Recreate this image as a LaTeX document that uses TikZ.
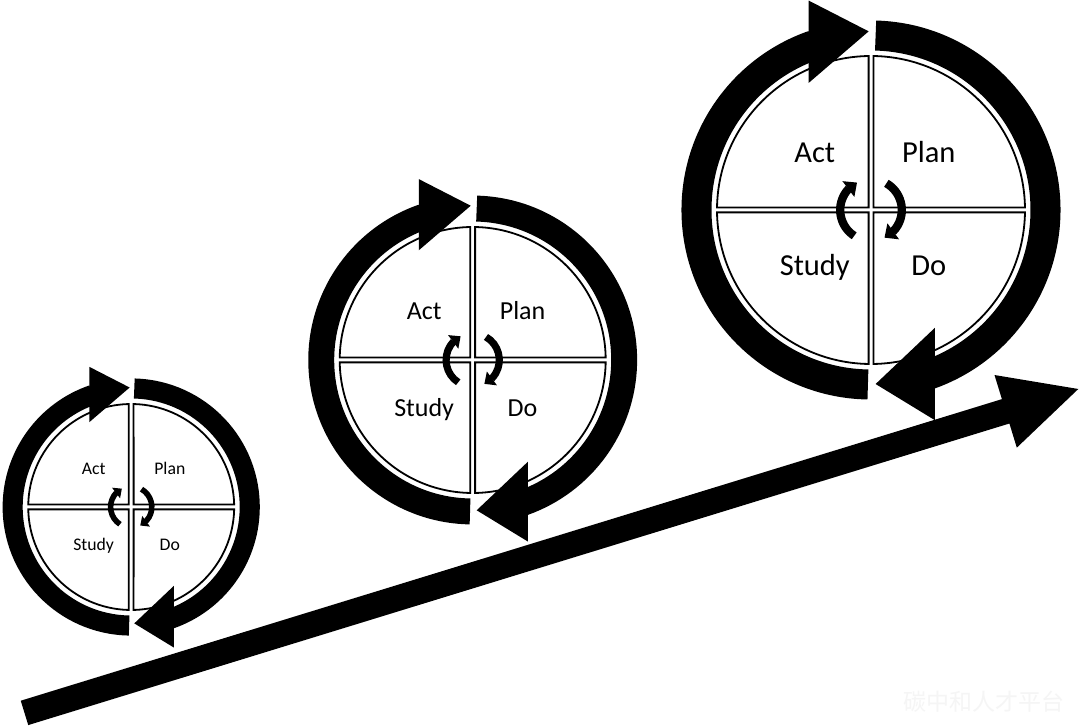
\documentclass[tikz,border=0pt]{standalone}
\usepackage{fontspec}
\setmainfont{Carlito}
\newfontfamily\cjkfont{Noto Sans CJK SC}
\usetikzlibrary{calc,arrows.meta,bending}

\tikzset{
  quad/.style={draw=black, line width=1.8pt, fill=white, line join=miter},
  ringarc/.style={draw=black, line cap=butt},
  headtri/.style={fill=black},
  innerarr/.style={draw=black, line cap=butt, -{Triangle[width=0pt 2.3, length=0pt 1.3]}},
  pdcatext/.style={inner sep=0pt, anchor=base, text=black},
  bigarrow/.style={fill=black},
}

\newcommand\pdcacycle[5]{%
  \pgfmathsetmacro\pdR{#4}%
  \pgfmathsetmacro\pdD{2.4}%
  \pgfmathsetmacro\pdA{asin(\pdD/\pdR)}%
  \pgfmathsetmacro\pdB{90-\pdA}%
  \coordinate (#1c) at (#2,#3);
  % quadrants
  \draw[quad] ($(#1c)+(\pdD,\pdD)$) -- ($(#1c)+(\pdB:\pdR)$) arc[start angle=\pdB, end angle=\pdA, radius=\pdR] -- cycle;
  \draw[quad] ($(#1c)+(-\pdD,\pdD)$) -- ($(#1c)+(90+\pdA:\pdR)$) arc[start angle=90+\pdA, end angle=180-\pdA, radius=\pdR] -- cycle;
  \draw[quad] ($(#1c)+(-\pdD,-\pdD)$) -- ($(#1c)+(180+\pdA:\pdR)$) arc[start angle=180+\pdA, end angle=270-\pdA, radius=\pdR] -- cycle;
  \draw[quad] ($(#1c)+(\pdD,-\pdD)$) -- ($(#1c)+(270+\pdA:\pdR)$) arc[start angle=270+\pdA, end angle=360-\pdA, radius=\pdR] -- cycle;
  % outer ring arrows
  \pgfmathsetmacro\pdRi{\pdR+5.5}%
  \pgfmathsetmacro\pdW{0.195*\pdR}%
  \pgfmathsetmacro\pdRo{\pdRi+\pdW}%
  \pgfmathsetmacro\pdRm{\pdRi+\pdW/2}%
  \pgfmathsetmacro\pdLs{270-asin(0.02*\pdR/\pdRm)}%
  \pgfmathsetmacro\pdLe{acos(-0.405*\pdR/\pdRo)}%
  \pgfmathsetmacro\pdRs{90-asin(0.03*\pdR/\pdRm)}%
  \pgfmathsetmacro\pdRe{-acos(0.415*\pdR/\pdRo)}%
  \draw[ringarc, line width=\pdW pt] ($(#1c)+(\pdLs:\pdRm)$) arc[start angle=\pdLs, end angle=\pdLe, radius=\pdRm];
  \draw[ringarc, line width=\pdW pt] ($(#1c)+(\pdRs:\pdRm)$) arc[start angle=\pdRs, end angle=\pdRe, radius=\pdRm];
  \fill[headtri] ($(#1c)+(-0.405*\pdR,1.36*\pdR)$) -- ($(#1c)+(-0.015*\pdR,1.16*\pdR)$) -- ($(#1c)+(-0.405*\pdR,0.825*\pdR)$) -- cycle;
  \fill[headtri] ($(#1c)+(0.415*\pdR,-0.765*\pdR)$) -- ($(#1c)+(0.03*\pdR,-1.13*\pdR)$) -- ($(#1c)+(0.415*\pdR,-1.365*\pdR)$) -- cycle;
  % inner small arrows
  \pgfmathsetmacro\pdr{0.2*\pdR}%
  \pgfmathsetmacro\pdw{0.054*\pdR}%
  \draw[innerarr, line width=\pdw pt] ($(#1c)+(237:\pdr)$) arc[start angle=237, end angle=117, radius=\pdr];
  \draw[innerarr, line width=\pdw pt] ($(#1c)+(60:\pdr)$) arc[start angle=60, end angle=-64, radius=\pdr];
  % labels
  \node[pdcatext, font=\fontsize{#5}{#5}\selectfont] (#1act) at ($(#1c)+(-0.365*\pdR, 0.37*\pdR-0.316*#5)$) {Act};
  \node[pdcatext, font=\fontsize{#5}{#5}\selectfont] (#1plan) at ($(#1c)+(0.375*\pdR, 0.37*\pdR-0.316*#5)$) {Plan};
  \node[pdcatext, font=\fontsize{#5}{#5}\selectfont] (#1study) at ($(#1c)+(-0.365*\pdR, -0.365*\pdR-0.316*#5)$) {Study};
  \node[pdcatext, font=\fontsize{#5}{#5}\selectfont] (#1do) at ($(#1c)+(0.375*\pdR, -0.365*\pdR-0.316*#5)$) {Do};
}

\begin{document}
\begin{tikzpicture}[x=1pt,y=1pt]
  \fill[white] (0,0) rectangle (1080,726);
  \useasboundingbox (0,0) rectangle (1080,726);
  % main rising arrow
  \coordinate (aT) at (24.5,13.1);
  \coordinate (aP) at (1078.3,337);
  \coordinate (aB) at ($(aP)!76pt!(aT)$);
  \fill[bigarrow] ($(aT)!12.75pt!90:(aP)$) -- ($(aB)!12.75pt!90:(aP)$) -- ($(aB)!38pt!90:(aP)$) -- (aP)
     -- ($(aB)!38pt!-90:(aP)$) -- ($(aB)!12.75pt!-90:(aP)$) -- ($(aT)!12.75pt!-90:(aP)$) -- cycle;
  % three PDCA cycles
  \pdcacycle{s}{131.2}{219}{103}{17.7}
  \pdcacycle{m}{472.7}{366}{133}{26}
  \pdcacycle{b}{871}{516}{154}{30.5}
  % watermark
  \node[font=\cjkfont\fontsize{23}{23}\selectfont, text=black!4, inner sep=0pt] (wm) at (983.5,24) {碳中和人才平台};
\end{tikzpicture}
\end{document}
